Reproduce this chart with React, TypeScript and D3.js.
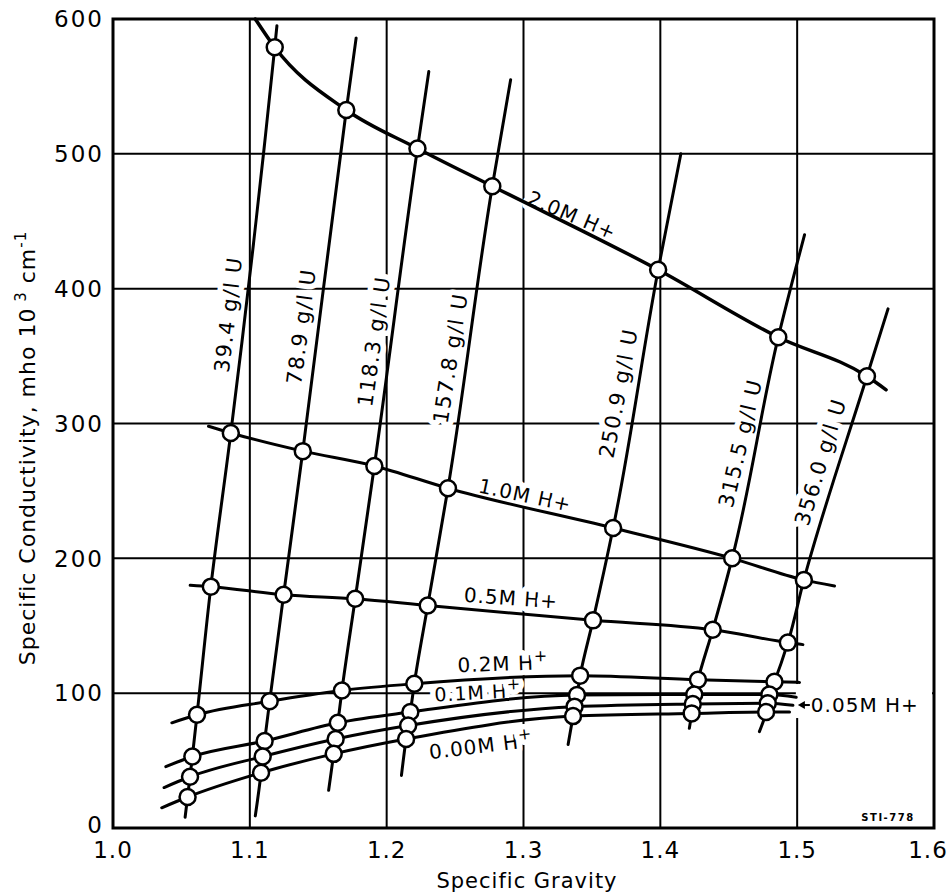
import React from "react";
import * as d3 from "d3";

// axis ticks
const SG_TICKS = [1.0, 1.1, 1.2, 1.3, 1.4, 1.5, 1.6];
const COND_TICKS = [0, 100, 200, 300, 400, 500, 600];

// uranium concentration (g/l U) and acid strength (M H+)
const U_LEVELS = ["39.4", "78.9", "118.3", "157.8", "250.9", "315.5", "356.0"];
const H_LEVELS = ["0.00M", "0.05M", "0.1M", "0.2M", "0.5M", "1.0M", "2.0M"];

// measured points: one row per uranium level, one column per H+ level
const SG = [
  [1.0545, 1.0563, 1.058, 1.0614, 1.0715, 1.0861, 1.1182],
  [1.1082, 1.1094, 1.1108, 1.1145, 1.1247, 1.1387, 1.1705],
  [1.1613, 1.1627, 1.1643, 1.1673, 1.177, 1.191, 1.2225],
  [1.2142, 1.2157, 1.2173, 1.2202, 1.23, 1.2448, 1.2772],
  [1.3362, 1.3373, 1.3391, 1.3414, 1.3508, 1.3655, 1.3984],
  [1.4229, 1.4237, 1.4248, 1.4275, 1.4383, 1.4525, 1.4862],
  [1.4773, 1.4785, 1.4797, 1.4834, 1.4932, 1.5049, 1.551],
];
const COND = [
  [23, 38, 53, 84, 179, 293, 579],
  [41, 53, 64.5, 94, 173, 279.5, 532.5],
  [55, 66, 78, 102, 170, 268.5, 504],
  [66, 76, 86, 107, 165, 252, 476],
  [83, 90, 98.6, 113, 154, 222.5, 414],
  [85, 92, 99, 110, 147, 200, 364],
  [86, 92.5, 99, 108.5, 137.5, 184, 335],
];

// where each uranium line starts (bottom) and stops (top)
const U_START_SG = [1.0527, 1.104, 1.1576, 1.2108, 1.3326, 1.4212, 1.4724];
const U_START_COND = [8, 9, 28, 39, 62, 74, 71.5];
const U_END_SG = [1.1198, 1.1777, 1.2308, 1.2906, 1.415, 1.5054, 1.5664];
const U_END_COND = [595, 586, 561, 555, 500, 440, 385];

// where each H+ curve starts (left) and stops (right)
const H_START_SG = [1.0356, 1.0373, 1.0386, 1.043, 1.0564, 1.0698, 1.104];
const H_START_COND = [15, 30, 45.5, 78, 180, 298, 600];
const H_END_SG = [1.4944, 1.4969, 1.4993, 1.5017, 1.5042, 1.5273, 1.565];
const H_END_COND = [86, 91, 97, 108, 136, 179.5, 325];

// label anchors in data units
const U_LABEL_SG = [1.0841, 1.1374, 1.1905, 1.2464, 1.3692, 1.4583, 1.5168];
const U_LABEL_COND = [381, 372, 361, 348.6, 322.6, 285.5, 271.5];
const H_LABEL_SG = [1.269, null, 1.2667, 1.285, 1.2909, 1.3011, 1.3355];
const H_LABEL_COND = [61, null, 100.5, 122, 170.6, 247, 454.6];
const H_LABEL_ANGLE = [-7, 0, -3, -2, 4, 12, 23];
const H_LABEL_SIZE = [20, 20, 19, 20, 20, 20, 20];
const H_LABEL_SUP = [true, false, true, true, false, false, false];

const FONT = "'DejaVu Sans', Verdana, sans-serif";

export default function App() {
  const x = d3.scaleLinear().domain([1.0, 1.6]).range([113, 934]);
  const y = d3.scaleLinear().domain([0, 600]).range([828, 19]);
  const hLine = d3
    .line<[number, number]>()
    .x(d => x(d[0]))
    .y(d => y(d[1]))
    .curve(d3.curveMonotoneX);
  const uLine = d3
    .line<[number, number]>()
    .x(d => x(d[0]))
    .y(d => y(d[1]))
    .curve(d3.curveMonotoneY);

  // uranium lines, ordered top to bottom on screen
  const uLines = U_LEVELS.map((u, i) => {
    const pts: [number, number][] = [[U_START_SG[i], U_START_COND[i]]];
    H_LEVELS.forEach((_, j) => pts.push([SG[i][j], COND[i][j]]));
    pts.push([U_END_SG[i], U_END_COND[i]]);
    return pts.reverse();
  });
  const hCurves = H_LEVELS.map((h, j) => {
    const pts: [number, number][] = [[H_START_SG[j], H_START_COND[j]]];
    U_LEVELS.forEach((_, i) => pts.push([SG[i][j], COND[i][j]]));
    pts.push([H_END_SG[j], H_END_COND[j]]);
    return pts;
  });

  const halo = { paintOrder: "stroke", stroke: "#fff", strokeWidth: 11, strokeLinejoin: "round" as const };
  const arrowY = y(91.2);
  const arrowX = x(1.5005);

  return (
    <svg width={949} height={895} style={{ position: "absolute", left: 0, top: 0, background: "#fff" }} fontFamily={FONT}>
      <rect width={949} height={895} fill="#fff" />
      {/* grid */}
      {COND_TICKS.slice(1, -1).map(t => (
        <line key={"h" + t} x1={x(1.0)} x2={x(1.6)} y1={y(t)} y2={y(t)} stroke="#000" strokeWidth={2} />
      ))}
      {SG_TICKS.slice(1, -1).map(t => (
        <line key={"v" + t} x1={x(t)} x2={x(t)} y1={y(0)} y2={y(600)} stroke="#000" strokeWidth={2} />
      ))}
      <rect x={x(1.0)} y={y(600)} width={x(1.6) - x(1.0)} height={y(0) - y(600)} fill="none" stroke="#000" strokeWidth={3} />

      {/* tick labels */}
      {COND_TICKS.map(t => (
        <text key={"yl" + t} x={104} y={y(t) - (t === 0 ? 3 : 0)} dy="0.36em" textAnchor="end" fontSize={23} letterSpacing={2}>
          {t}
        </text>
      ))}
      {SG_TICKS.map(t => (
        <text key={"xl" + t} x={Math.min(x(t), 928)} y={858} textAnchor="middle" fontSize={23} letterSpacing={1}>
          {t.toFixed(1)}
        </text>
      ))}
      <text x={527} y={888} textAnchor="middle" fontSize={21} letterSpacing={1}>
        Specific Gravity
      </text>
      <text transform={`translate(35,448) rotate(-90)`} textAnchor="middle" fontSize={22} letterSpacing={1}>
        Specific Conductivity, mho 10
        <tspan dy={-9} fontSize={15}> 3</tspan>
        <tspan dy={9}> cm</tspan>
        <tspan dy={-9} fontSize={15}>-1</tspan>
      </text>

      {/* uranium line labels */}
      {U_LEVELS.map((u, i) => {
        const a =
          (Math.atan2(y(U_END_COND[i]) - y(U_START_COND[i]), x(U_END_SG[i]) - x(U_START_SG[i])) * 180) / Math.PI;
        return (
          <text
            key={"ul" + u}
            transform={`translate(${x(U_LABEL_SG[i])},${y(U_LABEL_COND[i])}) rotate(${a})`}
            textAnchor="middle"
            dy="0.36em"
            fontSize={21}
            letterSpacing={1.5}
            style={halo}
          >
            {u} g/l U
          </text>
        );
      })}

      {/* H+ curve labels */}
      {H_LEVELS.map((h, j) =>
        H_LABEL_SG[j] == null ? null : (
          <text
            key={"hl" + h}
            transform={`translate(${x(H_LABEL_SG[j] as number)},${y(H_LABEL_COND[j] as number)}) rotate(${H_LABEL_ANGLE[j]})`}
            textAnchor="middle"
            dy="0.36em"
            fontSize={H_LABEL_SIZE[j]}
            letterSpacing={1}
            style={halo}
          >
            {h} H
            {H_LABEL_SUP[j] ? (
              <tspan dy={-8} fontSize={16}>+</tspan>
            ) : (
              "+"
            )}
          </text>
        )
      )}
      {/* 0.05M label sits in a cleared patch right of the 1.5 line */}
      <rect x={arrowX - 2} y={arrowY - 21} width={x(1.6) - arrowX} height={34} fill="#fff" />
      <text x={arrowX + 13} y={arrowY} dy="0.36em" fontSize={20} letterSpacing={1}>
        0.05M H+
      </text>
      <line x1={arrowX + 4} x2={arrowX + 12} y1={arrowY} y2={arrowY} stroke="#000" strokeWidth={2} />
      <path d={`M${arrowX},${arrowY} l7,-4 l0,8 z`} fill="#000" />

      {/* curves */}
      {uLines.map((pts, i) => (
        <path key={"u" + i} d={uLine(pts) || ""} fill="none" stroke="#000" strokeWidth={3} strokeLinecap="round" />
      ))}
      {hCurves.map((pts, j) => (
        <path
          key={"c" + j}
          d={hLine(pts) || ""}
          fill="none"
          stroke="#000"
          strokeWidth={j === 6 ? 3.5 : 3}
          strokeLinecap="round"
        />
      ))}

      {/* measured points, lower acid drawn last */}
      {H_LEVELS.map((_, jj) => {
        const j = H_LEVELS.length - 1 - jj;
        return U_LEVELS.map((_, i) => (
          <circle key={`p${i}-${j}`} cx={x(SG[i][j])} cy={y(COND[i][j])} r={8} fill="#fff" stroke="#000" strokeWidth={2.5} />
        ));
      })}

      <text x={888} y={821} textAnchor="middle" fontSize={10} fontWeight="bold" letterSpacing={1.5}>
        STI-778
      </text>
    </svg>
  );
}
